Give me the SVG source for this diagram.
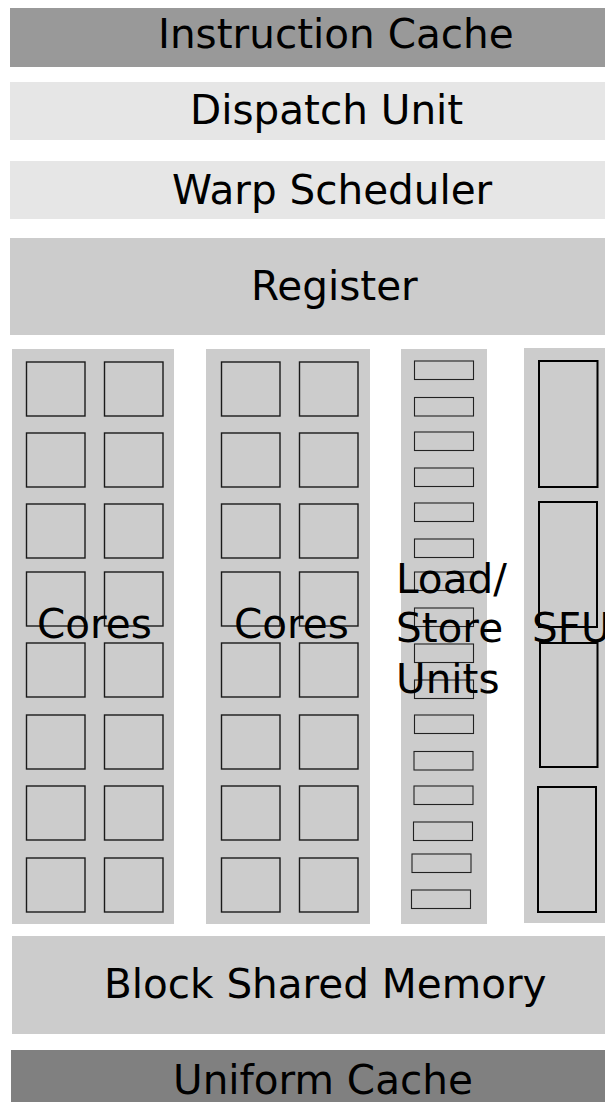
<svg xmlns="http://www.w3.org/2000/svg" width="605" height="1102" viewBox="0 0 605 1102">
<style>
text{font-family:"DejaVu Sans",sans-serif;font-size:40.5px;fill:#000}
.core{fill:#cccccc;stroke:#1a1a1a;stroke-width:1.4}
.ls{fill:#cccccc;stroke:#222;stroke-width:1.1}
.sfu{fill:#cccccc;stroke:#000;stroke-width:2}
.col{fill:#cccccc}
</style>
<rect width="605" height="1102" fill="#ffffff"/>
<g id="instruction-cache"><rect x="10" y="8" width="595" height="59" fill="#999999"/><text x="158" y="48">Instruction Cache</text></g>
<g id="dispatch-unit"><rect x="10" y="82" width="595" height="58" fill="#e6e6e6"/><text x="190" y="123.5">Dispatch Unit</text></g>
<g id="warp-scheduler"><rect x="10" y="161" width="595" height="58" fill="#e6e6e6"/><text x="172" y="204">Warp Scheduler</text></g>
<g id="register"><rect x="10" y="238" width="595" height="97" fill="#cccccc"/><text x="251" y="300">Register</text></g>
<g id="cores-1">
<rect class="col" x="12" y="349" width="162" height="575"/>
<g>
<rect class="core" x="26.5" y="362" width="58.5" height="54"/><rect class="core" x="104.5" y="362" width="58.5" height="54"/>
<rect class="core" x="26.5" y="433" width="58.5" height="54"/><rect class="core" x="104.5" y="433" width="58.5" height="54"/>
<rect class="core" x="26.5" y="504" width="58.5" height="54"/><rect class="core" x="104.5" y="504" width="58.5" height="54"/>
<rect class="core" x="26.5" y="572" width="58.5" height="54"/><rect class="core" x="104.5" y="572" width="58.5" height="54"/>
<rect class="core" x="26.5" y="643" width="58.5" height="54"/><rect class="core" x="104.5" y="643" width="58.5" height="54"/>
<rect class="core" x="26.5" y="715" width="58.5" height="54"/><rect class="core" x="104.5" y="715" width="58.5" height="54"/>
<rect class="core" x="26.5" y="786" width="58.5" height="54"/><rect class="core" x="104.5" y="786" width="58.5" height="54"/>
<rect class="core" x="26.5" y="858" width="58.5" height="54"/><rect class="core" x="104.5" y="858" width="58.5" height="54"/>
</g>
<text x="37" y="638">Cores</text>
</g>
<g id="cores-2">
<rect class="col" x="206" y="349" width="164" height="575"/>
<g>
<rect class="core" x="221.5" y="362" width="58.5" height="54"/><rect class="core" x="299.5" y="362" width="58.5" height="54"/>
<rect class="core" x="221.5" y="433" width="58.5" height="54"/><rect class="core" x="299.5" y="433" width="58.5" height="54"/>
<rect class="core" x="221.5" y="504" width="58.5" height="54"/><rect class="core" x="299.5" y="504" width="58.5" height="54"/>
<rect class="core" x="221.5" y="572" width="58.5" height="54"/><rect class="core" x="299.5" y="572" width="58.5" height="54"/>
<rect class="core" x="221.5" y="643" width="58.5" height="54"/><rect class="core" x="299.5" y="643" width="58.5" height="54"/>
<rect class="core" x="221.5" y="715" width="58.5" height="54"/><rect class="core" x="299.5" y="715" width="58.5" height="54"/>
<rect class="core" x="221.5" y="786" width="58.5" height="54"/><rect class="core" x="299.5" y="786" width="58.5" height="54"/>
<rect class="core" x="221.5" y="858" width="58.5" height="54"/><rect class="core" x="299.5" y="858" width="58.5" height="54"/>
</g>
<text x="234" y="638">Cores</text>
</g>
<g id="load-store-units">
<rect class="col" x="401" y="349" width="86" height="575"/>
<g>
<rect class="ls" x="414.5" y="361" width="59" height="18.5"/>
<rect class="ls" x="414.5" y="397.5" width="59" height="18.5"/>
<rect class="ls" x="414.5" y="432" width="59" height="18.5"/>
<rect class="ls" x="414.5" y="468" width="59" height="18.5"/>
<rect class="ls" x="414.5" y="503" width="59" height="18.5"/>
<rect class="ls" x="414.5" y="539" width="59" height="18.5"/>
<rect class="ls" x="414.5" y="572" width="59" height="18.5"/>
<rect class="ls" x="414.5" y="608" width="59" height="18.5"/>
<rect class="ls" x="414.5" y="644" width="59" height="18.5"/>
<rect class="ls" x="414.5" y="680" width="59" height="18.5"/>
<rect class="ls" x="414.5" y="715" width="59" height="18.5"/>
<rect class="ls" x="414" y="751.5" width="59" height="18.5"/>
<rect class="ls" x="414" y="786" width="59" height="18.5"/>
<rect class="ls" x="413.5" y="822" width="59" height="18.5"/>
<rect class="ls" x="412" y="854" width="59" height="18.5"/>
<rect class="ls" x="411.5" y="890" width="59" height="18.5"/>
</g>
<text x="396" y="593">Load/</text>
<text x="396" y="642">Store</text>
<text x="396" y="693">Units</text>
</g>
<g id="sfu">
<rect class="col" x="524" y="348" width="81" height="575"/>
<rect class="sfu" x="539" y="361" width="58.5" height="126"/>
<rect class="sfu" x="539" y="502" width="58" height="125"/>
<rect class="sfu" x="540" y="643" width="57.5" height="124"/>
<rect class="sfu" x="538" y="787" width="58" height="125"/>
<text x="532" y="642">SFU</text>
</g>
<g id="block-shared-memory"><rect x="12" y="936" width="593" height="98" fill="#cccccc"/><text x="104" y="998">Block Shared Memory</text></g>
<g id="uniform-cache"><rect x="11" y="1050" width="594" height="52" fill="#808080"/><text x="173" y="1094">Uniform Cache</text></g>
<g id="connectors"/>
</svg>
